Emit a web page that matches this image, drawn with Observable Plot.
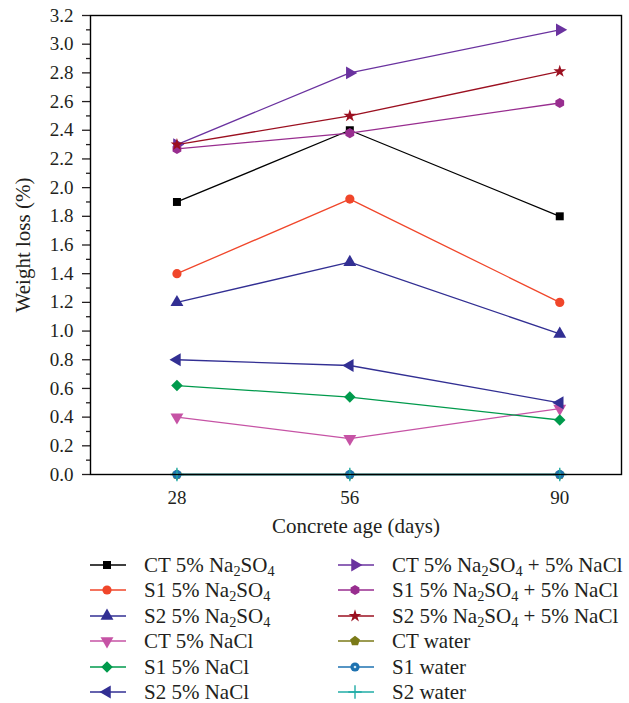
<!DOCTYPE html>
<html><head><meta charset="utf-8">
<script src="https://cdn.jsdelivr.net/npm/d3@7"></script>
<script src="https://cdn.jsdelivr.net/npm/@observablehq/plot@0.6"></script>
<style>
body{margin:0;background:#fff;font-family:"Liberation Serif",serif;color:#231f20}
#wrap{position:relative;width:629px;height:703px;overflow:hidden}
#wrap svg.plot{display:block}
.leg{position:absolute;display:flex;align-items:center;font-size:21px;white-space:nowrap;height:24px;line-height:24px}
.leg .txt{margin-left:18px}
sub{font-size:0.68em;vertical-align:-0.3em;line-height:0}
</style></head><body><div id="wrap"></div><script>
// ---- data ----
const ages = [28, 56, 90];
const seriesNames = ["CT 5% Na2SO4","S1 5% Na2SO4","S2 5% Na2SO4","CT 5% NaCl","S1 5% NaCl","S2 5% NaCl",
  "CT 5% Na2SO4 + 5% NaCl","S1 5% Na2SO4 + 5% NaCl","S2 5% Na2SO4 + 5% NaCl","CT water","S1 water","S2 water"];
const legendLabels = ["CT 5% Na<sub>2</sub>SO<sub>4</sub>","S1 5% Na<sub>2</sub>SO<sub>4</sub>","S2 5% Na<sub>2</sub>SO<sub>4</sub>",
  "CT 5% NaCl","S1 5% NaCl","S2 5% NaCl",
  "CT 5% Na<sub>2</sub>SO<sub>4</sub> + 5% NaCl","S1 5% Na<sub>2</sub>SO<sub>4</sub> + 5% NaCl","S2 5% Na<sub>2</sub>SO<sub>4</sub> + 5% NaCl",
  "CT water","S1 water","S2 water"];
const ctNa2so4 = [1.90, 2.40, 1.80];
const s1Na2so4 = [1.40, 1.92, 1.20];
const s2Na2so4 = [1.20, 1.48, 0.98];
const ctNacl = [0.40, 0.25, 0.46];
const s1Nacl = [0.62, 0.54, 0.38];
const s2Nacl = [0.80, 0.76, 0.50];
const ctMix = [2.30, 2.80, 3.10];
const s1Mix = [2.27, 2.38, 2.59];
const s2Mix = [2.30, 2.50, 2.81];
const ctWater = [0, 0, 0];
const s1Water = [0, 0, 0];
const s2Water = [0, 0, 0];
const seriesValues = [ctNa2so4, s1Na2so4, s2Na2so4, ctNacl, s1Nacl, s2Nacl, ctMix, s1Mix, s2Mix, ctWater, s1Water, s2Water];
const colors = ["#000000","#f0462a","#322f93","#c653a5","#009a4c","#322f93","#6a329f","#982d8f","#9b1020","#7b7a18","#1e72b0","#21aca6"];
const yTicks = [0,0.2,0.4,0.6,0.8,1.0,1.2,1.4,1.6,1.8,2.0,2.2,2.4,2.6,2.8,3.0,3.2];
const yMinorTicks = [0.1,0.3,0.5,0.7,0.9,1.1,1.3,1.5,1.7,1.9,2.1,2.3,2.5,2.7,2.9,3.1];
const yLabel = "Weight loss (%)";
const xLabel = "Concrete age (days)";

// ---- symbols ----
function poly(n, rot) {
  return {draw(ctx, size) {
    const R = Math.sqrt(size / (n / 2 * Math.sin(2 * Math.PI / n)));
    for (let i = 0; i < n; i++) {
      const a = rot + i * 2 * Math.PI / n;
      const x = R * Math.cos(a), y = R * Math.sin(a);
      if (i === 0) ctx.moveTo(x, y); else ctx.lineTo(x, y);
    }
    ctx.closePath();
  }};
}
const symbols = [d3.symbolSquare, d3.symbolCircle, poly(3, -Math.PI/2), poly(3, Math.PI/2), poly(4, -Math.PI/2), poly(3, Math.PI),
  poly(3, 0), poly(6, -Math.PI/2), d3.symbolStar, poly(5, -Math.PI/2), d3.symbolCircle, d3.symbolPlus];
const radii = [4.5, 4.6, 4.8, 4.8, 4.6, 4.8, 4.8, 4.6, 4.0, 4.5, 4.6, 4.4];
const strokeSymbol = [false,false,false,false,false,false,false,false,false,false,false,true];

const table = [];
seriesNames.forEach((s, i) => ages.forEach((a, j) => table.push({series: s, idx: i, age: a, value: seriesValues[i][j]})));

const marks = [
  Plot.axisY({ticks: yMinorTicks, tickSize: 4, tickFormat: () => "", label: null, strokeWidth: 1.3}),
  Plot.axisY({ticks: yTicks, tickSize: 8, tickPadding: 9, tickFormat: d3.format(".1f"), strokeWidth: 1.3, fontSize: 19, label: null}),
  Plot.axisX({ticks: ages, tickSize: 6, tickPadding: 10, strokeWidth: 1.3, fontSize: 19, label: null}),
  Plot.text([yLabel], {text: d => d, frameAnchor: "left", dx: -67, rotate: -90, fontSize: 21, textAnchor: "middle", lineAnchor: "middle"}),
  Plot.text([xLabel], {text: d => d, frameAnchor: "bottom", dy: 52, fontSize: 21, textAnchor: "middle", lineAnchor: "middle"}),
  Plot.line(table, {x: "age", y: "value", z: "series", stroke: d => colors[d.idx], strokeWidth: 1.3}),
];
seriesNames.forEach((s, i) => {
  const rows = table.filter(d => d.idx === i);
  if (strokeSymbol[i]) {
    marks.push(Plot.dot(rows, {x: "age", y: "value", symbol: symbols[i], r: radii[i], stroke: colors[i], fill: "none", strokeWidth: 1.4}));
  } else {
    marks.push(Plot.dot(rows, {x: "age", y: "value", symbol: symbols[i], r: radii[i], fill: colors[i], stroke: "none"}));
  }
  if (i === 10) marks.push(Plot.dot(rows, {x: "age", y: "value", r: 1.3, fill: "#cfe8f5", stroke: "none"}));
});
marks.push(Plot.frame({stroke: "#000", strokeWidth: 1.4}));

const chart = Plot.plot({
  width: 629, height: 545,
  marginLeft: 90, marginRight: 8, marginTop: 15, marginBottom: 71,
  style: {fontFamily: "Liberation Serif, serif", fontSize: "21px", color: "#231f20", background: "#fff"},
  x: {domain: [14, 100]},
  y: {domain: [0, 3.2]},
  marks
});
chart.classList.add("plot");
const wrap = document.getElementById("wrap");
wrap.appendChild(chart);

// ---- legend ----
const colX = [90, 338];
seriesNames.forEach((s, i) => {
  const col = Math.floor(i / 6), row = i % 6;
  const item = document.createElement("div");
  item.className = "leg";
  item.style.left = colX[col] + "px";
  item.style.top = (565 + row * 25.4 - 12) + "px";
  const svg = d3.create("svg").attr("width", 36).attr("height", 24);
  svg.append("line").attr("x1", 0).attr("x2", 36).attr("y1", 12).attr("y2", 12).attr("stroke", colors[i]).attr("stroke-width", 1.5);
  const p = d3.symbol(symbols[i], Math.PI * radii[i] * radii[i])();
  const g = svg.append("path").attr("d", p).attr("transform", "translate(17,12)");
  if (strokeSymbol[i]) g.attr("fill", "none").attr("stroke", colors[i]).attr("stroke-width", 1.4);
  else g.attr("fill", colors[i]);
  if (i === 10) svg.append("circle").attr("cx", 17).attr("cy", 12).attr("r", 1.3).attr("fill", "#cfe8f5");
  item.appendChild(svg.node());
  const t = document.createElement("span");
  t.className = "txt";
  t.innerHTML = legendLabels[i];
  item.appendChild(t);
  wrap.appendChild(item);
});
</script></body></html>
